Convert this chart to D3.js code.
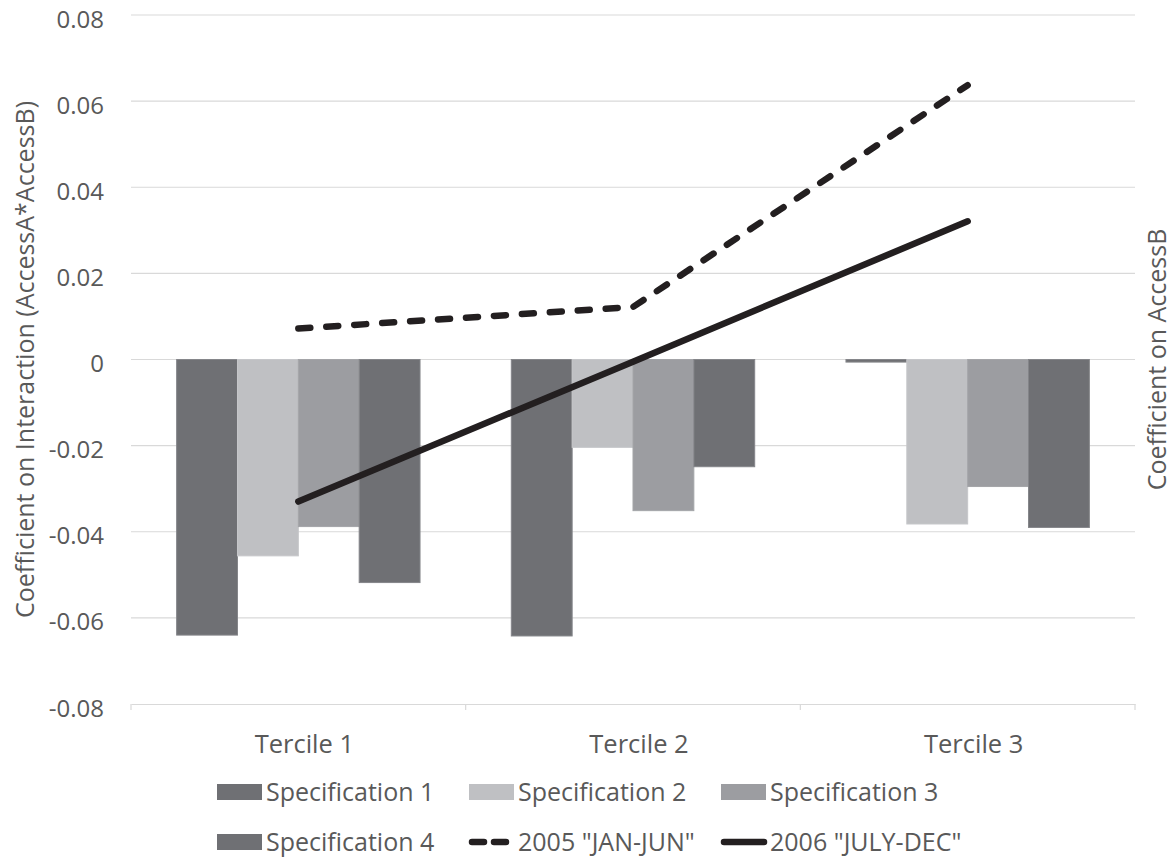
<!DOCTYPE html>
<html>
<head>
<meta charset="utf-8">
<script src="https://cdn.jsdelivr.net/npm/d3@7"></script>
<style>
  html, body { margin: 0; padding: 0; background: #ffffff; }
  svg { display: block; font-family: "Open Sans", sans-serif; }
</style>
</head>
<body>
<svg id="chart" width="1175" height="858"></svg>
<script>
// ---- data ----
const categories = ["Tercile 1", "Tercile 2", "Tercile 3"];
const barSeries = ["Specification 1", "Specification 2", "Specification 3", "Specification 4"];
const spec1 = [-0.0640, -0.0642, -0.0006];
const spec2 = [-0.0456, -0.0204, -0.0382];
const spec3 = [-0.0388, -0.0351, -0.0295];
const spec4 = [-0.0518, -0.0249, -0.0390];
const lineSeries = ['2005 "JAN-JUN"', '2006 "JULY-DEC"'];
const janJun = [0.0072, 0.0122, 0.0637];
const julyDec = [-0.0330, -0.0005, 0.0321];
const yTicks = [-0.08, -0.06, -0.04, -0.02, 0, 0.02, 0.04, 0.06, 0.08];
const yTitle = "Coefficient on Interaction (AccessA*AccessB)";
const y2Title = "Coefficient on AccessB";

(function () {
// ---- styles ----
const barColors = ["#6f7074", "#bfc0c3", "#9c9da1", "#6f7074"];
const barStroke = ["#85868a", "#c6c7ca", "#a4a5a8", "#85868a"];
const lineColor = "#231f20";
const textColor = "#595959";

const svg = d3.select("#chart");
svg.append("rect").attr("width", 1175).attr("height", 858).attr("fill", "#fff");

const pLeft = 131, pRight = 1135, pTop = 15, pBottom = 704;

const x = d3.scaleBand().domain(categories).range([pLeft, pRight]).padding(0);
const x1 = d3.scaleBand().domain(barSeries).range([0, x.bandwidth()]).paddingInner(0).paddingOuter(0.75);
const y = d3.scaleLinear().domain([-0.08, 0.08]).range([pBottom, pTop]);

// gridlines
svg.append("g").selectAll("line").data(yTicks.filter(t => t !== -0.08)).join("line")
  .attr("x1", pLeft).attr("x2", pRight)
  .attr("y1", d => y(d)).attr("y2", d => y(d))
  .attr("stroke", "#d9d9d9").attr("stroke-width", 1.2);

const fmt = d => Math.abs(d) < 1e-9 ? "0" : d.toFixed(2);
const yAxis = d3.axisLeft(y).tickValues(yTicks).tickSize(0).tickPadding(27).tickFormat(fmt);
const gy = svg.append("g").attr("transform", `translate(${pLeft},0)`).call(yAxis);
gy.select(".domain").remove();
gy.selectAll("text").attr("fill", textColor).attr("font-size", 24).attr("font-family", "Open Sans").attr("dy", "0.5em");

// bars
const barData = [spec1, spec2, spec3, spec4];
const gb = svg.append("g");
barData.forEach((vals, si) => {
  gb.selectAll(null).data(vals).join("rect")
    .attr("x", (d, i) => x(categories[i]) + x1(barSeries[si]))
    .attr("width", x1.bandwidth())
    .attr("y", d => y(Math.max(0, d)))
    .attr("height", d => Math.abs(y(d) - y(0)))
    .attr("fill", barColors[si])
    .attr("stroke", barStroke[si]).attr("stroke-width", 1);
});

// x axis
const xAxis = d3.axisBottom(x).tickSize(0).tickPadding(31);
const gx = svg.append("g").attr("transform", `translate(0,${pBottom})`).call(xAxis);
gx.select(".domain").attr("stroke", "#d9d9d9").attr("stroke-width", 1.2);
gx.selectAll("text").attr("fill", textColor).attr("font-size", 25.5).attr("font-family", "Open Sans").attr("dx", 6);
const bounds = [pLeft].concat(categories.map(c => x(c) + x.bandwidth()));
svg.append("g").selectAll("line").data(bounds).join("line")
  .attr("x1", d => d).attr("x2", d => d)
  .attr("y1", pBottom).attr("y2", pBottom + 6)
  .attr("stroke", "#d9d9d9").attr("stroke-width", 1.2);

// lines
const line = d3.line().x((d, i) => x(categories[i]) + x.bandwidth() / 2).y(d => y(d));
svg.append("path").datum(janJun).attr("d", line)
  .attr("fill", "none").attr("stroke", lineColor).attr("stroke-width", 6.5)
  .attr("stroke-linecap", "round").attr("stroke-linejoin", "round")
  .attr("stroke-dasharray", "12,16");
svg.append("path").datum(julyDec).attr("d", line)
  .attr("fill", "none").attr("stroke", lineColor).attr("stroke-width", 6.5)
  .attr("stroke-linecap", "round").attr("stroke-linejoin", "round");

// axis titles
svg.append("text").attr("transform", `translate(34,${(pTop + pBottom) / 2}) rotate(-90)`)
  .attr("text-anchor", "middle").attr("fill", textColor).attr("font-size", 25)
  .text(yTitle);
svg.append("text").attr("transform", `translate(1166,${(pTop + pBottom) / 2}) rotate(-90)`)
  .attr("text-anchor", "middle").attr("fill", textColor).attr("font-size", 25)
  .text(y2Title);

// legend
const legendItems = [
  { name: barSeries[0], type: "bar", color: barColors[0] },
  { name: barSeries[1], type: "bar", color: barColors[1] },
  { name: barSeries[2], type: "bar", color: barColors[2] },
  { name: barSeries[3], type: "bar", color: barColors[3] },
  { name: lineSeries[0], type: "dash" },
  { name: lineSeries[1], type: "solid" }
];
const lg = svg.append("g");
legendItems.forEach((it, i) => {
  const col = i % 3, row = Math.floor(i / 3);
  const gx0 = 217 + col * 252, gy0 = 792 + row * 50;
  const g = lg.append("g").attr("transform", `translate(${gx0},${gy0})`);
  if (it.type === "bar") {
    g.append("rect").attr("x", 0).attr("y", -8).attr("width", 45).attr("height", 16).attr("fill", it.color);
  } else if (it.type === "dash") {
    g.append("line").attr("x1", 3).attr("x2", 43).attr("y1", 0).attr("y2", 0)
      .attr("stroke", lineColor).attr("stroke-width", 6.5).attr("stroke-linecap", "round")
      .attr("stroke-dasharray", "12,10");
  } else {
    g.append("line").attr("x1", 3).attr("x2", 43).attr("y1", 0).attr("y2", 0)
      .attr("stroke", lineColor).attr("stroke-width", 6.5).attr("stroke-linecap", "round");
  }
  g.append("text").attr("x", 49).attr("y", 0).attr("dy", "0.35em")
    .attr("fill", textColor).attr("font-size", 25).text(it.name);
});
})();
</script>
</body>
</html>
